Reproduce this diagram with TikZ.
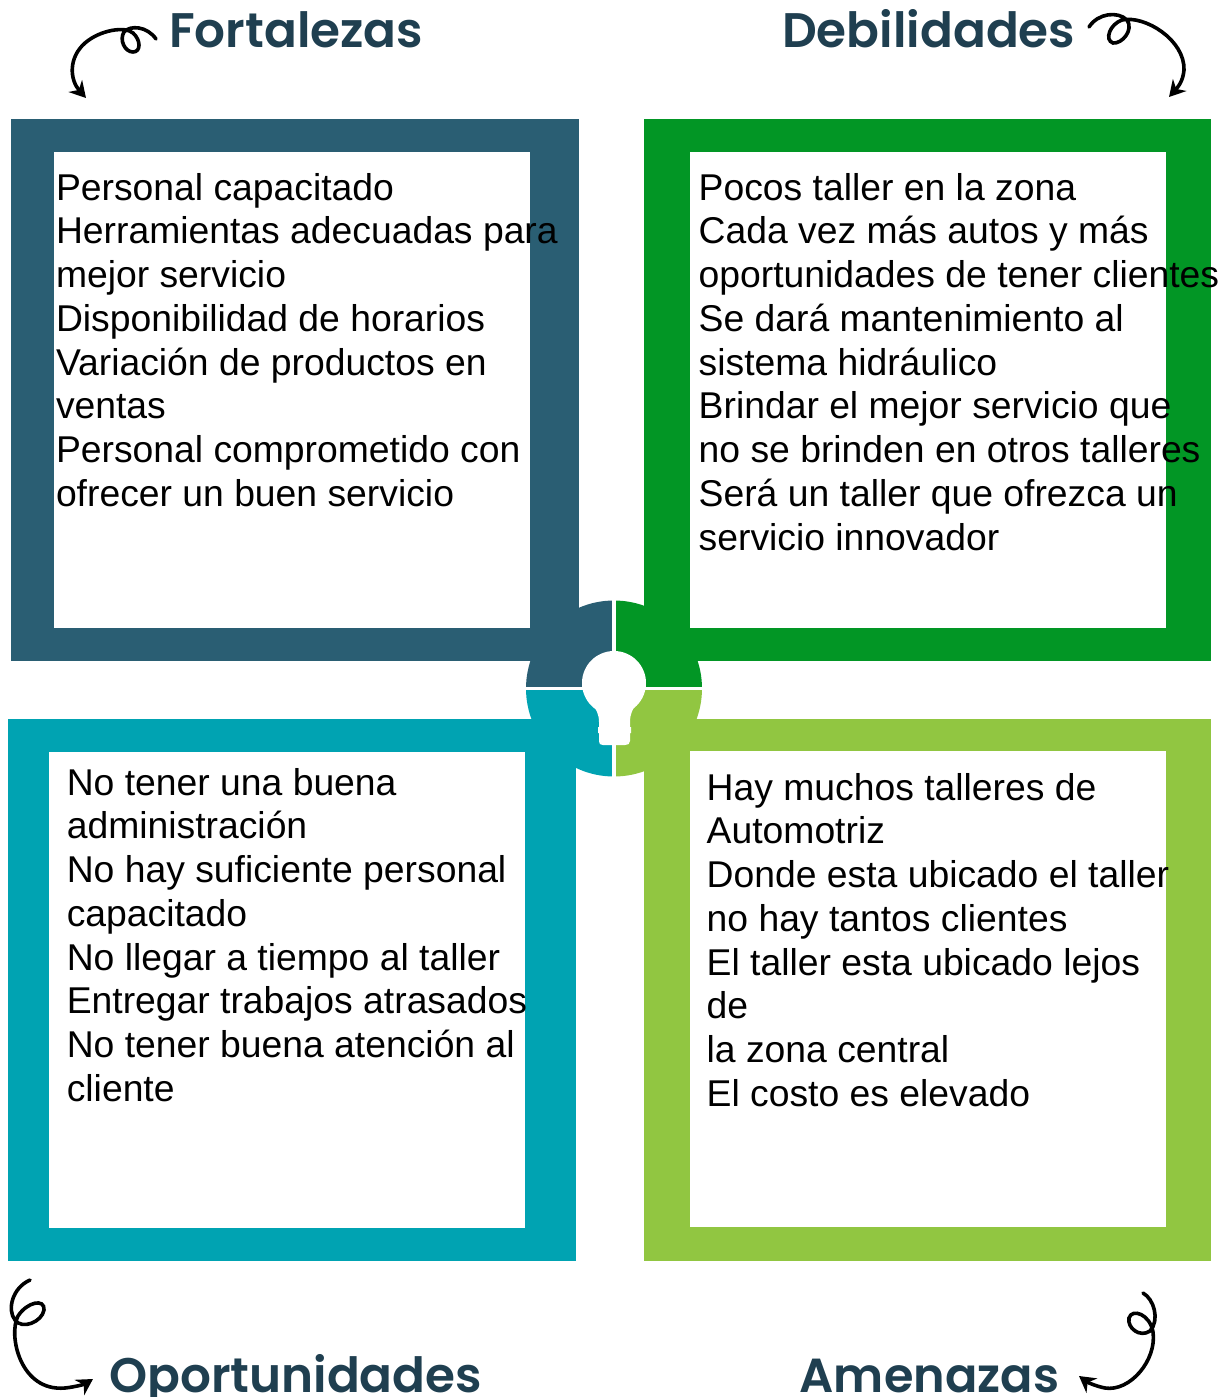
\documentclass[tikz,border=0pt]{standalone}
\usepackage{fontspec}
\setmainfont{Liberation Sans}
\newfontfamily\titlefont[UprightFont=* SemiBold]{Poppins}
\usepackage{tikz}
\usetikzlibrary{arrows.meta}
\usetikzlibrary{positioning}

\definecolor{fortcolor}{HTML}{2A5E73}
\definecolor{debcolor}{HTML}{029625}
\definecolor{opcolor}{HTML}{00A3B2}
\definecolor{amecolor}{HTML}{91C641}
\definecolor{titlecolor}{HTML}{1F3F50}

\begin{document}
\begin{tikzpicture}[x=1pt,y=-1pt,>={Stealth[length=16pt,width=18pt]},
  outer box/.style={rectangle,inner sep=0pt,minimum width=568pt,minimum height=542pt},
  inner box/.style={rectangle,fill=white,inner sep=0pt,minimum width=476pt,minimum height=476pt},
  body text/.style={inner sep=0pt,align=left,text=black,font=\fontsize{37.3}{43.75}\selectfont},
  title text/.style={inner sep=0pt,anchor=base west,text=titlecolor,font=\titlefont\fontsize{48.5}{55}\selectfont},
  curl/.style={->,line width=3.6pt,line cap=round,black}]

  \useasboundingbox (0,0) rectangle (1231,1397);

  % frames
  \node[outer box,fill=fortcolor] (fort) at (295,390) {};
  \node[outer box,fill=debcolor,minimum width=567pt] (deb) at (927.5,390) {};
  \node[outer box,fill=opcolor] (op) at (292,990) {};
  \node[outer box,fill=amecolor,minimum width=567pt] (ame) at (927.5,990) {};
  \node[inner box] (fortin) at (292,390) {};
  \node[inner box] (debin) at (927.7,390) {};
  \node[inner box] (opin) at (287.3,990) {};
  \node[inner box] (amein) at (927.7,989) {};

  % center
  \coordinate (center) at (614,688.5);
  \begin{scope}
    \clip (center) circle (88);
    \fill[fortcolor] (520,595) rectangle (614,688.5);
    \fill[debcolor] (614,595) rectangle (710,688.5);
    \fill[opcolor] (520,688.5) rectangle (614,780);
    \fill[amecolor] (614,688.5) rectangle (710,780);
  \end{scope}
  \draw[white,line width=3.2pt] (614,600) -- (614,778) (525,688.5) -- (703,688.5);
  \node[circle,fill=white,inner sep=0pt,minimum size=64pt] (bulb) at (614,683) {};
  \fill[white] (583,690) -- (645,690)
    .. controls (641,702) and (630,706) .. (630,722) -- (630,727) -- (631,727) -- (631,733) -- (630,733)
    -- (630,741) .. controls (630,744) and (628,745) .. (625,745) -- (603,745)
    .. controls (600,745) and (599,744) .. (599,741) -- (599,733) -- (598,733) -- (598,727) -- (599,727)
    -- (599,722) .. controls (599,706) and (587,702) .. (583,690) -- cycle;

  % texts
  \node[body text,below right=21pt and 2pt of fortin.north west] (forttext)
    {Personal capacitado\\Herramientas adecuadas para\\mejor servicio\\Disponibilidad de horarios\\Variación de productos en\\ventas\\Personal comprometido con\\ofrecer un buen servicio};
  \node[body text,below right=21pt and 9pt of debin.north west] (debtext)
    {Pocos taller en la zona\\Cada vez más autos y más\\oportunidades de tener clientes\\Se dará mantenimiento al\\sistema hidráulico\\Brindar el mejor servicio que\\no se brinden en otros talleres\\Será un taller que ofrezca un\\servicio innovador};
  \node[body text,below right=16pt and 17.5pt of opin.north west] (optext)
    {No tener una buena\\administración\\No hay suficiente personal\\capacitado\\No llegar a tiempo al taller\\Entregar trabajos atrasados\\No tener buena atención al\\cliente};
  \node[body text,below right=22pt and 17pt of amein.north west] (ametext)
    {Hay muchos talleres de\\Automotriz\\Donde esta ubicado el taller\\no hay tantos clientes\\El taller esta ubicado lejos\\de\\la zona central\\El costo es elevado};

  % titles
  \node[title text] (forttitle) at (169,48) {Fortalezas};
  \node[title text] (debtitle) at (782,48) {Debilidades};
  \node[title text] (optitle) at (109,1392) {Oportunidades};
  \node[title text,font=\titlefont\fontsize{47.8}{55}\selectfont] (ametitle) at (799.5,1392) {Amenazas};

  % curls
  \coordinate (forttail) at (156,39);
  \coordinate (forttip) at (86,98);
  \draw[curl] (forttail) .. controls (147,26) and (130,25) .. (124,32)
    .. controls (119,40) and (125,52) .. (133,52)
    .. controls (141,52) and (141,40) .. (133,33)
    .. controls (125,26) and (100,30) .. (85,43)
    .. controls (68,58) and (70,80) .. (forttip);
  \coordinate (debtail) at (1089,27);
  \coordinate (debtip) at (1169,97);
  \draw[curl] (debtail) .. controls (1098,13) and (1118,11) .. (1127,20)
    .. controls (1134,30) and (1122,44) .. (1113,43)
    .. controls (1104,40) and (1110,24) .. (1122,20)
    .. controls (1145,15) and (1185,40) .. (1184,70)
    .. controls (1183,82) and (1177,88) .. (debtip);
  \coordinate (optail) at (30,1280);
  \coordinate (optip) at (93,1379);
  \draw[curl] (optail) .. controls (12,1288) and (7,1310) .. (15,1320)
    .. controls (22,1330) and (42,1322) .. (44,1310)
    .. controls (45,1298) and (27,1302) .. (18,1316)
    .. controls (8,1335) and (20,1392) .. (65,1388)
    .. controls (75,1387) and (85,1384) .. (optip);
  \coordinate (ametail) at (1143,1293);
  \coordinate (ametip) at (1079,1376);
  \draw[curl] (ametail) .. controls (1154,1299) and (1160,1320) .. (1150,1331)
    .. controls (1140,1338) and (1127,1328) .. (1129,1318)
    .. controls (1132,1308) and (1150,1314) .. (1153,1332)
    .. controls (1157,1360) and (1130,1392) .. (1105,1388)
    .. controls (1095,1386) and (1087,1382) .. (ametip);
\end{tikzpicture}
\end{document}
